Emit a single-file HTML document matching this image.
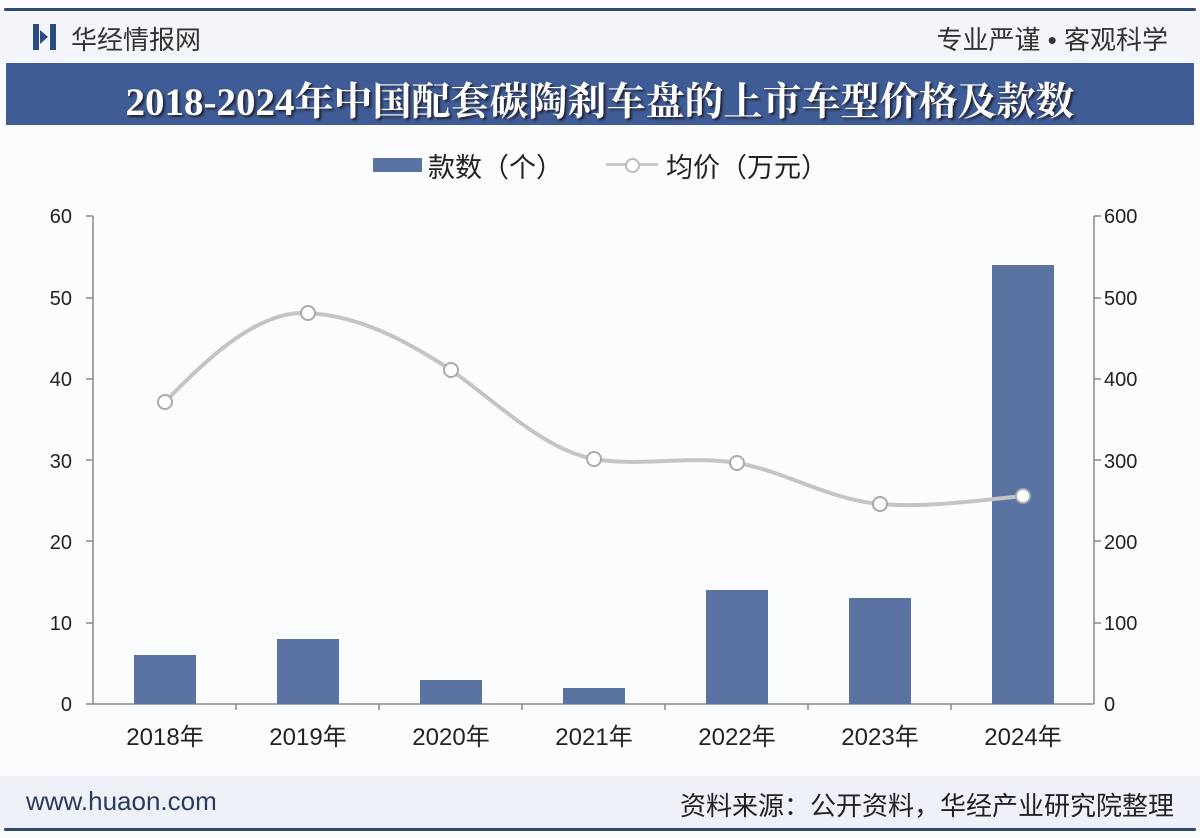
<!DOCTYPE html>
<html><head><meta charset="utf-8"><style>
body{margin:0;width:1200px;height:838px;background:#fff;font-family:"Liberation Sans","Noto Sans CJK SC",sans-serif;overflow:hidden;position:relative}
.abs{position:absolute}
</style></head><body>
<div class="abs" style="left:0;top:0;width:1200px;height:838px;background:#fbfcfe"></div>
<div class="abs" style="left:4px;top:8px;width:1192px;height:3px;background:#2f4a6e;border-radius:2px"></div>
<div class="abs" style="left:0;top:11px;width:1200px;height:52px;background:#f3f5fa"></div>
<div class="abs" style="left:33px;top:24px;width:6px;height:26px;background:#2a4a80"></div>
<div class="abs" style="left:40px;top:30px;width:0;height:0;border-left:8px solid #2a4a80;border-top:7px solid transparent;border-bottom:7px solid transparent"></div>
<div class="abs" style="left:50px;top:24px;width:6px;height:26px;background:#2a4a80"></div>
<div class="abs" style="left:71px;top:20px;font-size:26px;color:#333">华经情报网</div>
<div class="abs" style="right:32px;top:20px;font-size:26px;color:#333">专业严谨 • 客观科学</div>
<div class="abs" style="left:6px;top:63px;width:1188px;height:62px;background:#3f5c96"></div>
<div class="abs" style="left:0;top:71px;width:1200px;text-align:center;font-size:39px;font-weight:bold;color:#fff;font-family:'Liberation Serif','Noto Serif CJK SC',serif;text-shadow:2px 2px 2px #223">2018-2024年中国配套碳陶刹车盘的上市车型价格及款数</div>
<div class="abs" style="left:373px;top:158px;width:49px;height:14px;background:#5b73a3"></div>
<div class="abs" style="left:428px;top:146px;font-size:27px;color:#222">款数（个）</div>
<div class="abs" style="left:606px;top:163px;width:52px;height:3px;background:#c8c8c8"></div>
<div class="abs" style="left:625px;top:158px;width:11px;height:11px;border:2px solid #bbb;border-radius:50%;background:#fff"></div>
<div class="abs" style="left:666px;top:146px;font-size:27px;color:#222">均价（万元）</div>
<svg class="abs" style="left:0;top:0" width="1200" height="838">
<g font-size="20" fill="#222" font-family="Liberation Sans,sans-serif">
<text x="72" y="223" text-anchor="end">60</text><text x="72" y="305" text-anchor="end">50</text><text x="72" y="386" text-anchor="end">40</text><text x="72" y="468" text-anchor="end">30</text><text x="72" y="549" text-anchor="end">20</text><text x="72" y="630" text-anchor="end">10</text><text x="72" y="711" text-anchor="end">0</text>
<text x="1104" y="223">600</text><text x="1104" y="305">500</text><text x="1104" y="386">400</text><text x="1104" y="468">300</text><text x="1104" y="549">200</text><text x="1104" y="630">100</text><text x="1104" y="711">0</text>
</g>
<g stroke="#888" stroke-width="1.5">
<line x1="93" y1="216" x2="93" y2="704"/><line x1="1094" y1="216" x2="1094" y2="704"/><line x1="93" y1="704" x2="1094" y2="704"/>
<line x1="86" y1="216" x2="93" y2="216"/><line x1="86" y1="298" x2="93" y2="298"/><line x1="86" y1="379" x2="93" y2="379"/><line x1="86" y1="460" x2="93" y2="460"/><line x1="86" y1="541" x2="93" y2="541"/><line x1="86" y1="623" x2="93" y2="623"/><line x1="86" y1="704" x2="93" y2="704"/>
<line x1="1094" y1="216" x2="1101" y2="216"/><line x1="1094" y1="298" x2="1101" y2="298"/><line x1="1094" y1="379" x2="1101" y2="379"/><line x1="1094" y1="460" x2="1101" y2="460"/><line x1="1094" y1="541" x2="1101" y2="541"/><line x1="1094" y1="623" x2="1101" y2="623"/>
<line x1="236" y1="704" x2="236" y2="710"/><line x1="379" y1="704" x2="379" y2="710"/><line x1="522" y1="704" x2="522" y2="710"/><line x1="665" y1="704" x2="665" y2="710"/><line x1="808" y1="704" x2="808" y2="710"/><line x1="951" y1="704" x2="951" y2="710"/>
</g>
<g fill="#5b73a3">
<rect x="134" y="655" width="62" height="49"/><rect x="277" y="639" width="62" height="65"/><rect x="420" y="680" width="62" height="24"/><rect x="563" y="688" width="62" height="16"/><rect x="706" y="590" width="62" height="114"/><rect x="849" y="598" width="62" height="106"/><rect x="992" y="265" width="62" height="439"/>
</g>
<path d="M165,402 C210,355 260,310 308,313 C360,316 405,340 451,370 C500,405 545,450 594,459 C640,467 690,455 737,463 C785,471 830,500 880,504 C930,508 980,500 1023,496" fill="none" stroke="#c4c4c4" stroke-width="4"/>
<g fill="#fff" stroke="#aaa" stroke-width="2">
<circle cx="165" cy="402" r="7"/><circle cx="308" cy="313" r="7"/><circle cx="451" cy="370" r="7"/><circle cx="594" cy="459" r="7"/><circle cx="737" cy="463" r="7"/><circle cx="880" cy="504" r="7"/><circle cx="1023" cy="496" r="7"/>
</g>
<g font-size="24" fill="#222" text-anchor="middle" font-family="Liberation Sans,Noto Sans CJK SC,sans-serif">
<text x="165" y="745">2018年</text><text x="308" y="745">2019年</text><text x="451" y="745">2020年</text><text x="594" y="745">2021年</text><text x="737" y="745">2022年</text><text x="880" y="745">2023年</text><text x="1023" y="745">2024年</text>
</g>
</svg>
<div class="abs" style="left:0;top:776px;width:1200px;height:52px;background:#eef1f7"></div>
<div class="abs" style="left:26px;top:786px;font-size:26px;color:#2a3a5a">www.huaon.com</div>
<div class="abs" style="right:26px;top:786px;font-size:26px;color:#222">资料来源：公开资料，华经产业研究院整理</div>
<div class="abs" style="left:4px;top:828px;width:1192px;height:3px;background:#2f4a6e;border-radius:2px"></div>
</body></html>
